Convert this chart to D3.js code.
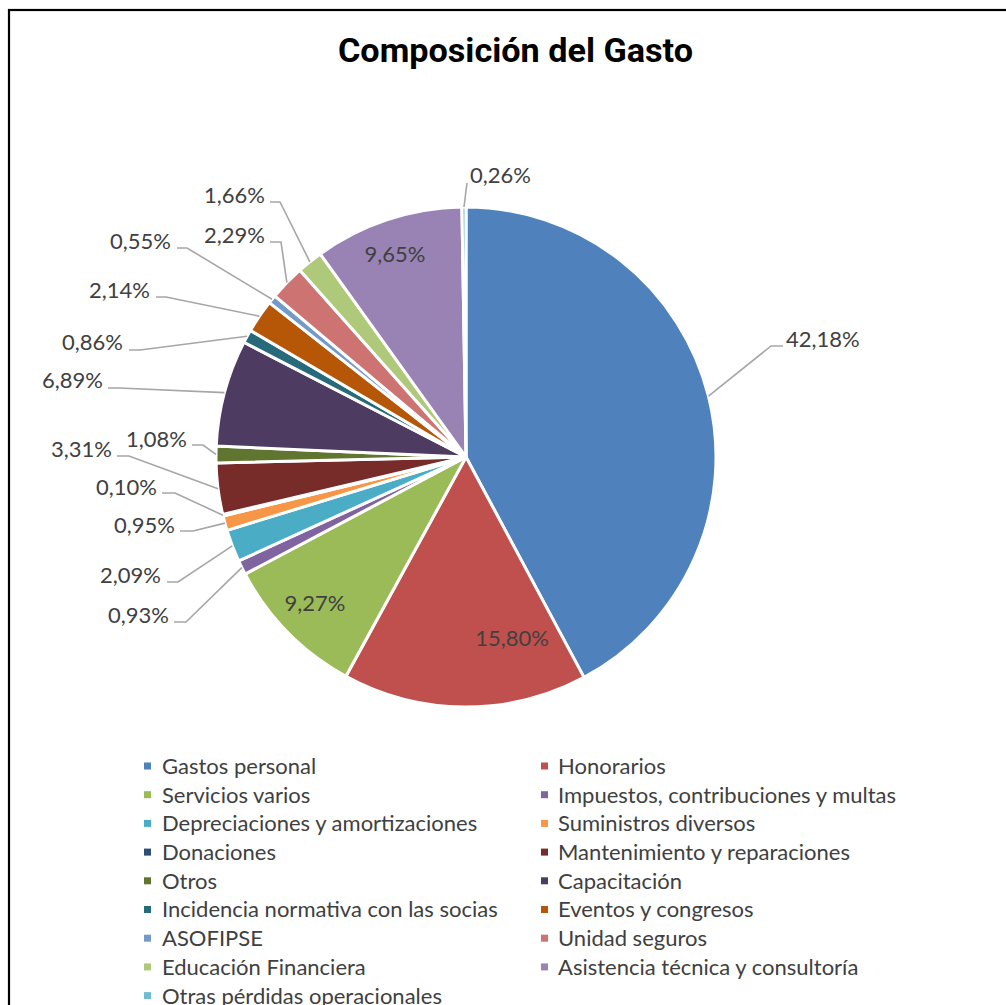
<!DOCTYPE html>
<html>
<head>
<meta charset="utf-8">
<script src="https://cdn.jsdelivr.net/npm/d3@7"></script>
<style>
  body { margin: 0; background: #fff; }
  svg { display: block; }
</style>
</head>
<body>
<div id="chart-area"></div>
<script>
// categories, values (percent) and colours of the slices
var categories = ["Gastos personal", "Honorarios", "Servicios varios",
  "Impuestos, contribuciones y multas", "Depreciaciones y amortizaciones",
  "Suministros diversos", "Donaciones", "Mantenimiento y reparaciones", "Otros",
  "Capacitación", "Incidencia normativa con las socias", "Eventos y congresos",
  "ASOFIPSE", "Unidad seguros", "Educación Financiera",
  "Asistencia técnica y consultoría", "Otras pérdidas operacionales"];
var values = [42.18, 15.80, 9.27, 0.93, 2.09, 0.95, 0.10, 3.31, 1.08, 6.89,
  0.86, 2.14, 0.55, 2.29, 1.66, 9.65, 0.26];
var colors = ["#4F81BD", "#C0504D", "#9BBB59", "#8064A2", "#4BACC6", "#F79646",
  "#2C4D75", "#772C2A", "#5F7530", "#4D3B62", "#276A7C", "#B65708",
  "#729ACA", "#CD7371", "#AFC97A", "#9983B5", "#6FBDD1"];

// where each data label sits (text point, elbow of the leader line)
// inside labels have no elbow
var labelLayout = [
  {x: 786, y: 339, anchor: "start", elbow: [771, 346], end: [783, 346]},
  {x: 512, y: 638, anchor: "middle"},
  {x: 315, y: 603, anchor: "middle"},
  {x: 169, y: 615, anchor: "end", elbow: [186, 622], end: [174, 622]},
  {x: 161, y: 575, anchor: "end", elbow: [178, 582], end: [167, 582]},
  {x: 175, y: 525, anchor: "end", elbow: [193, 531], end: [180, 531]},
  {x: 157, y: 487, anchor: "end", elbow: [175, 493], end: [162, 493]},
  {x: 112, y: 449, anchor: "end", elbow: [129, 456], end: [117, 456]},
  {x: 187, y: 439, anchor: "end", elbow: [203, 445], end: [192, 445]},
  {x: 103, y: 380, anchor: "end", elbow: [119, 388], end: [108, 388]},
  {x: 123, y: 342, anchor: "end", elbow: [140, 350], end: [129, 350]},
  {x: 150, y: 290, anchor: "end", elbow: [166, 297], end: [156, 297]},
  {x: 171, y: 241, anchor: "end", elbow: [187, 248], end: [177, 248]},
  {x: 265, y: 235, anchor: "end", elbow: [281, 242], end: [270, 242]},
  {x: 265, y: 195, anchor: "end", elbow: [280, 202], end: [270, 202]},
  {x: 395, y: 254, anchor: "middle"},
  {x: 470, y: 175, anchor: "start", elbow: [467, 183], end: [467, 183]}
];

var width = 1006, height = 1005;
var cx = 466, cy = 457, radius = 250;

var svg = d3.select("#chart-area")
  .append("svg")
  .attr("width", width)
  .attr("height", height);

// chart frame
svg.append("rect")
  .attr("x", 9).attr("y", 10)
  .attr("width", 1020).attr("height", 1020)
  .attr("fill", "none")
  .attr("stroke", "#000")
  .attr("stroke-width", 2.2);

// title
svg.append("text")
  .attr("x", 338)
  .attr("y", 62)
  .attr("textLength", 355)
  .attr("lengthAdjust", "spacingAndGlyphs")
  .style("font-family", "Roboto, sans-serif")
  .style("font-weight", 700)
  .style("font-size", "33px")
  .style("fill", "#000")
  .text("Composición del Gasto");

var pie = d3.pie().sort(null).value(function(d) { return d; });
var arcs = pie(values);

var arc = d3.arc().innerRadius(0).outerRadius(radius);

var g = svg.append("g")
  .attr("transform", "translate(" + cx + "," + cy + ")");

g.selectAll("path.slice")
  .data(arcs)
  .enter()
  .append("path")
  .attr("class", "slice")
  .attr("d", arc)
  .attr("fill", function(d, i) { return colors[i]; })
  .attr("stroke", "#fff")
  .attr("stroke-width", 3)
  .attr("stroke-linejoin", "round");

// leader lines start on the rim at the slice middle
function rimPoint(d) {
  var a = (d.startAngle + d.endAngle) / 2;
  return [cx + radius * Math.sin(a), cy - radius * Math.cos(a)];
}

var fmt = function(v) { return v.toFixed(2).replace(".", ",") + "%"; };

svg.selectAll("polyline.leader")
  .data(arcs.filter(function(d, i) { return labelLayout[i].elbow; }))
  .enter()
  .append("polyline")
  .attr("class", "leader")
  .attr("points", function(d) {
    var L = labelLayout[d.index];
    return [rimPoint(d), L.elbow, L.end].map(function(p) { return p.join(","); }).join(" ");
  })
  .attr("fill", "none")
  .attr("stroke", "#A6A6A6")
  .attr("stroke-width", 1.6);

svg.selectAll("text.label")
  .data(arcs)
  .enter()
  .append("text")
  .attr("class", "label")
  .attr("x", function(d, i) { return labelLayout[i].x; })
  .attr("y", function(d, i) { return labelLayout[i].y; })
  .attr("dy", "0.36em")
  .attr("text-anchor", function(d, i) { return labelLayout[i].anchor; })
  .style("font-family", "Lato, sans-serif")
  .style("font-size", "22px")
  .style("fill", "#404040")
  .text(function(d) { return fmt(d.data); });

// legend, two columns
var legendX = [144, 541], legendTextX = [162, 558];
var legendY = 766, legendStep = 28.7;

var legend = svg.selectAll("g.legend")
  .data(categories)
  .enter()
  .append("g")
  .attr("class", "legend")
  .attr("transform", function(d, i) {
    return "translate(0," + (legendY + Math.floor(i / 2) * legendStep) + ")";
  });

legend.append("rect")
  .attr("x", function(d, i) { return legendX[i % 2]; })
  .attr("y", -3.5)
  .attr("width", 7)
  .attr("height", 7)
  .attr("fill", function(d, i) { return colors[i]; });

legend.append("text")
  .attr("x", function(d, i) { return legendTextX[i % 2]; })
  .attr("dy", "0.36em")
  .style("font-family", "Lato, sans-serif")
  .style("font-size", "22px")
  .style("fill", "#404040")
  .text(function(d) { return d; });
</script>
</body>
</html>
